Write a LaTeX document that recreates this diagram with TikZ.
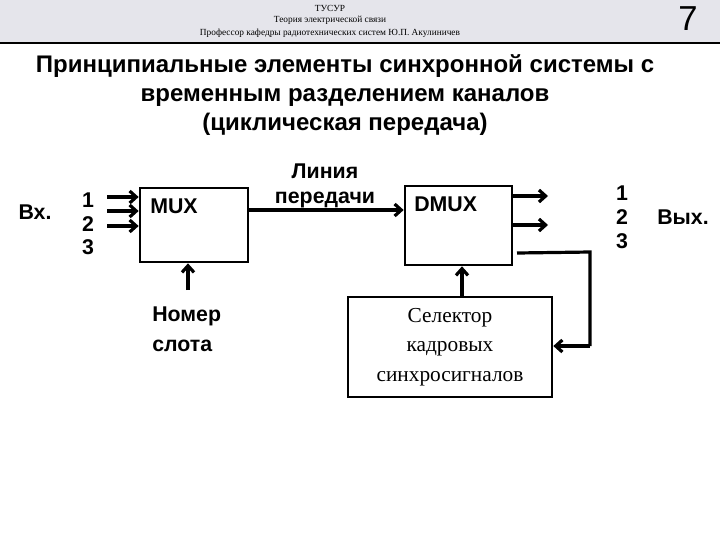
\documentclass[tikz,border=0pt]{standalone}
\usepackage{fontspec}
\setmainfont{Liberation Sans}
\newfontfamily\serifr{Liberation Serif}
\usetikzlibrary{arrows.meta}
\begin{document}
\begin{tikzpicture}[x=0.75pt,y=-0.75pt,
 box/.style={draw,line width=2pt},
 ar/.style={line width=2.4pt,-{Straight Barb[length=5pt,width=9pt]}},
 ln/.style={line width=2.4pt},
 lb/.style={font=\bfseries\fontsize{16}{19}\selectfont,align=center,inner sep=0},
 hd/.style={font=\serifr\fontsize{7}{8}\selectfont,inner sep=0}]
\useasboundingbox (0,0) rectangle (720,540);
\fill[blue!12!gray!18] (0,0) rectangle (720,42);
\draw[line width=1pt] (0,43) -- (720,43);
\node[hd] (h1) at (330,8) {ТУСУР};
\node[hd] (h2) at (330,20) {Теория электрической связи};
\node[hd] (h3) at (330,33) {Профессор кафедры радиотехнических систем Ю.П. Акулиничев};
\node[font=\fontsize{26}{28}\selectfont,inner sep=0] (num) at (688,19) {7};
\node[font=\bfseries\fontsize{18}{22}\selectfont,align=center,inner sep=0] (title) at (345,95)
 {Принципиальные элементы синхронной системы с\\временным разделением каналов\\(циклическая передача)};
\node[box,minimum width=108pt*0.75,minimum height=74pt*0.75,inner sep=0] (mux) at (194,225) {};
\node[lb,anchor=north west] (muxl) at (150,199) {MUX};
\node[box,minimum width=107pt*0.75,minimum height=79pt*0.75,inner sep=0] (dmux) at (458.5,225.5) {};
\node[lb,anchor=north west] (dmuxl) at (414,197) {DMUX};
\node[box,minimum width=204pt*0.75,minimum height=100pt*0.75,inner sep=0] (sel) at (450,347) {};
\node[font=\serifr\fontsize{16}{22}\selectfont,align=center,inner sep=0] (sell) at (450,347) {Селектор\\кадровых\\синхросигналов};
\node[lb] (vx) at (35,212) {Вх.};
\node[lb] (i1) at (88,200) {1};
\node[lb] (i2) at (88,224) {2};
\node[lb] (i3) at (88,247) {3};
\coordinate (a1) at (107,197); \coordinate (a2) at (107,211); \coordinate (a3) at (107,226);
\draw[ar] (a1) -- (a1 -| mux.west);
\draw[ar] (a2) -- (a2 -| mux.west);
\draw[ar] (a3) -- (a3 -| mux.west);
\node[lb] (lin) at (325,186) {Линия\\передачи};
\draw[ar] (mux.east |- 0,210) -- (dmux.west |- 0,210);
\coordinate (o1) at (548,196); \coordinate (o2) at (548,225);
\draw[ar] (dmux.east |- o1) -- (o1);
\draw[ar] (dmux.east |- o2) -- (o2);
\coordinate (c1) at (517,253); \coordinate (c2) at (590,252); \coordinate (c3) at (590,346);
\draw[ln] (c1) -- (c2) -- (c3);
\draw[ar] (c3) -- (c3 -| sel.east);
\node[lb] (q1) at (622,193) {1};
\node[lb] (q2) at (622,217) {2};
\node[lb] (q3) at (622,241) {3};
\node[lb] (vyx) at (683,217) {Вых.};
\draw[ar] (sel.north -| 462,0) -- (dmux.south -| 462,0);
\coordinate (nb) at (188,290);
\draw[ar] (nb) -- (nb |- mux.south);
\node[font=\bfseries\fontsize{16}{22}\selectfont,align=left,inner sep=0,anchor=north west] (nom) at (152,307) {Номер\\слота};
\end{tikzpicture}
\end{document}
